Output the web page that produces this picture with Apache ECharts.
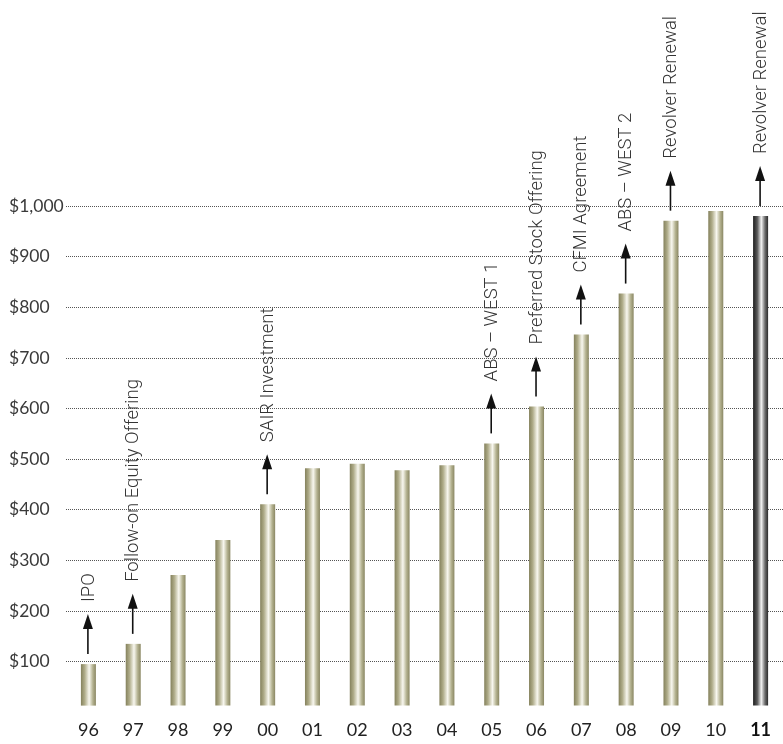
<!DOCTYPE html>
<html>
<head>
<meta charset="utf-8">
<script src="https://cdn.jsdelivr.net/npm/echarts@6/dist/echarts.min.js"></script>
<style>
html,body{margin:0;padding:0;background:#fff;}
#chart{width:783px;height:744px;}
</style>
</head>
<body>
<div id="chart"></div>
<script>
// ---- data ----
const years = ['96','97','98','99','00','01','02','03','04','05','06','07','08','09','10','11'];
const values = [95, 135, 271, 340, 411, 482, 491, 478, 488, 531, 604, 746, 827, 971, 990, 980];
const events = ['IPO','Follow-on Equity Offering','','','SAIR Investment','','','','','ABS \u2013 WEST 1','Preferred Stock Offering','CFMI Agreement','ABS \u2013 WEST 2','Revolver Renewal','','Revolver Renewal'];
const yTicks = [100,200,300,400,500,600,700,800,900,1000];
const highlightIndex = 15;
const BASE = 13;

const chart = echarts.init(document.getElementById('chart'), null, {renderer:'canvas'});

const oliveGrad = new echarts.graphic.LinearGradient(0,0,1,0,[
  {offset:0, color:'#84815c'},
  {offset:0.25, color:'#afac89'},
  {offset:0.55, color:'#f8f7ef'},
  {offset:0.8, color:'#b3b18f'},
  {offset:1, color:'#8a8763'}
]);
const darkGrad = new echarts.graphic.LinearGradient(0,0,1,0,[
  {offset:0, color:'#1c1c1c'},
  {offset:0.28, color:'#5a5a5a'},
  {offset:0.55, color:'#f2f2f2'},
  {offset:0.8, color:'#6a6a6a'},
  {offset:1, color:'#2a2a2a'}
]);

const barData = values.map((v,i)=>[i,v]);
const eventData = [];
events.forEach((t,i)=>{ if(t) eventData.push([i, values[i], t]); });

function renderBar(params, api){
  const i = api.value(0), v = api.value(1);
  const top = api.coord([i, v]);
  const bot = api.coord([i, BASE]);
  const w = 15;
  return {
    type:'rect',
    shape:{x: top[0]-w/2, y: top[1], width: w, height: bot[1]-top[1]},
    style:{fill: i===highlightIndex ? darkGrad : oliveGrad}
  };
}

function renderEvent(params, api){
  const i = api.value(0), v = api.value(1);
  const text = eventData[params.dataIndex][2];
  const p = api.coord([i, v]);
  const x = p[0] - 0.5;
  const y0 = p[1] - 10;
  const yt = y0 - 40;
  const headH = 15, headW = 10;
  return {
    type:'group',
    children:[
      {type:'line', shape:{x1:x, y1:y0, x2:x, y2:yt+headH-1}, style:{stroke:'#111', lineWidth:1.6}},
      {type:'polygon', shape:{points:[[x-headW/2, yt+headH],[x+headW/2, yt+headH],[x, yt]]}, style:{fill:'#111'}},
      {type:'text', x: x+1, y: yt-12, rotation: Math.PI/2,
        style:{text:text, fill:'#333', font:'300 18.5px Roboto, "Liberation Sans", sans-serif', align:'left', verticalAlign:'middle'}}
    ]
  };
}

const option = {
  animation:false,
  backgroundColor:'#ffffff',
  grid:{left:66, right:-5, top:206, bottom:31.8},
  xAxis:{
    type:'category',
    data: years.map((y,i)=> i===highlightIndex ? {value:y, textStyle:{fontWeight:'bold', color:'#111'}} : y),
    axisLine:{show:false}, axisTick:{show:false},
    axisLabel:{color:'#222', fontFamily:'Lato, "Open Sans", sans-serif', fontSize:18, margin:9}
  },
  yAxis:{
    type:'value', min:0, max:1000, interval:100,
    axisLine:{show:false}, axisTick:{show:false},
    axisLabel:{
      showMinLabel:false,
      color:'#3a3a3a', fontFamily:'Lato, "Open Sans", sans-serif', fontSize:17.5,
      align:'left', margin:57, padding:[0,0,10,0],
      formatter: v => yTicks.indexOf(v) >= 0 ? '$' + v.toLocaleString('en-US') : ''
    },
    splitLine:{show:true, showMinLine:false, lineStyle:{type:[1,1], color:'#555', width:1}}
  },
  series:[
    {type:'custom', name:'Value', renderItem: renderBar, data: barData, encode:{x:0, y:1}, clip:false, z:2},
    {type:'custom', name:'Events', renderItem: renderEvent, data: eventData.map(d=>[d[0], d[1]]), encode:{x:0, y:1}, clip:false, z:3}
  ]
};
chart.setOption(option);
</script>
</body>
</html>
